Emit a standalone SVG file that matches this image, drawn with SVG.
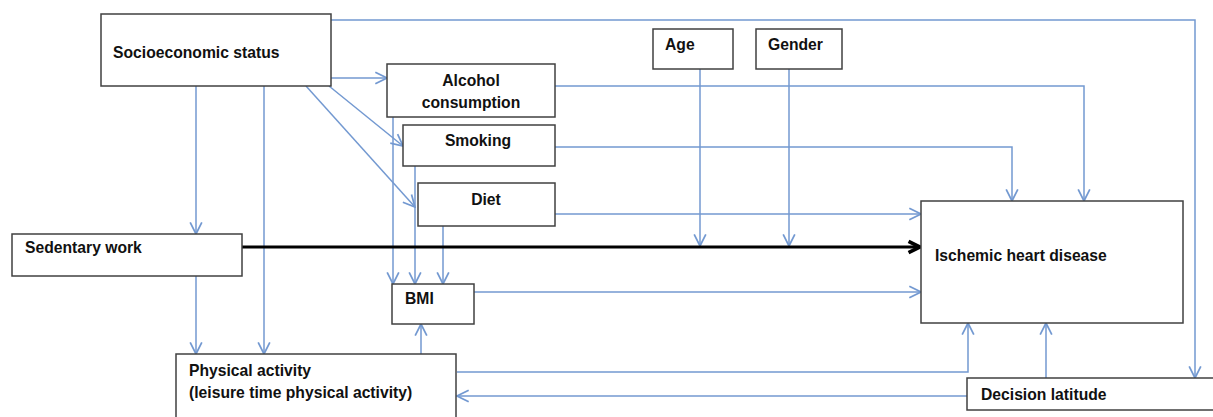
<svg xmlns="http://www.w3.org/2000/svg" width="1213" height="417" viewBox="0 0 1213 417">
<style>
.box{fill:#fff;stroke:#404040;stroke-width:1.5}
.t{font-family:"Liberation Sans",Arial,sans-serif;font-weight:bold;font-size:15.7px;fill:#111}
.c{fill:none;stroke:#7399d1;stroke-width:1.5;marker-end:url(#a)}
.n{fill:none;stroke:#7399d1;stroke-width:1.5}
.k{fill:none;stroke:#000;stroke-width:3.2;marker-end:url(#b)}
</style>
<defs>
<marker id="a" markerUnits="userSpaceOnUse" markerWidth="14" markerHeight="14" viewBox="0 0 12 12" refX="11" refY="6" orient="auto"><path d="M1,1 L11,6 L1,11" fill="none" stroke="#7399d1" stroke-width="1.5"/></marker>
<marker id="b" markerUnits="userSpaceOnUse" markerWidth="16" markerHeight="16" viewBox="0 0 14 14" refX="12" refY="7" orient="auto"><path d="M2,2 L12,7 L2,12" fill="none" stroke="#000" stroke-width="3.2"/></marker>
</defs>
<g id="connectors">
<path class="c" d="M331,20 H1195 V378"/>
<path class="c" d="M331,78 H387"/>
<path class="c" d="M329,86 L403,146"/>
<path class="c" d="M306,86 L415,207"/>
<path class="c" d="M196,86 V234"/>
<path class="c" d="M264,86 V354"/>
<path class="c" d="M196,276 V354"/>
<path class="c" d="M393,117 V284"/>
<path class="c" d="M415,166 V284"/>
<path class="c" d="M443,226 V284"/>
<path class="c" d="M555,86 H1084 V201"/>
<path class="c" d="M555,147 H1012 V201"/>
<path class="c" d="M555,214 H921"/>
<path class="c" d="M700,69 V246"/>
<path class="c" d="M789,69 V246"/>
<path class="c" d="M474,292 H921"/>
<path class="c" d="M421,354 V324"/>
<path class="c" d="M457,372 H968 V323"/>
<path class="c" d="M1046,378 V323"/>
<path class="c" d="M967,396 H457"/>
<path class="k" d="M242,247 H920"/>
</g>
<g id="ses"><rect class="box" x="101" y="14" width="230" height="72"/><text class="t" x="113" y="58">Socioeconomic status</text></g>
<g id="alcohol"><rect class="box" x="387" y="64" width="168" height="53"/><text class="t" x="471" y="86" text-anchor="middle">Alcohol</text><text class="t" x="471" y="108" text-anchor="middle">consumption</text></g>
<g id="smoking"><rect class="box" x="403" y="125" width="152" height="41"/><text class="t" x="478" y="146" text-anchor="middle">Smoking</text></g>
<g id="diet"><rect class="box" x="418" y="183" width="137" height="43"/><text class="t" x="486" y="205" text-anchor="middle">Diet</text></g>
<g id="age"><rect class="box" x="653" y="29" width="80" height="40"/><text class="t" x="665" y="50">Age</text></g>
<g id="gender"><rect class="box" x="756" y="29" width="86" height="40"/><text class="t" x="768" y="50">Gender</text></g>
<g id="sedentary"><rect class="box" x="12" y="234" width="230" height="42"/><text class="t" x="25" y="253">Sedentary work</text></g>
<g id="bmi"><rect class="box" x="392" y="284" width="82" height="40"/><text class="t" x="405" y="304">BMI</text></g>
<g id="ihd"><rect class="box" x="921" y="201" width="262" height="122"/><text class="t" x="935" y="261">Ischemic heart disease</text></g>
<g id="pa"><rect class="box" x="176" y="354" width="280" height="70"/><text class="t" x="189" y="376">Physical activity</text><text class="t" x="189" y="398">(leisure time physical activity)</text></g>
<g id="decision"><rect class="box" x="967" y="378" width="260" height="32"/><text class="t" x="981" y="400">Decision latitude</text></g>
</svg>
